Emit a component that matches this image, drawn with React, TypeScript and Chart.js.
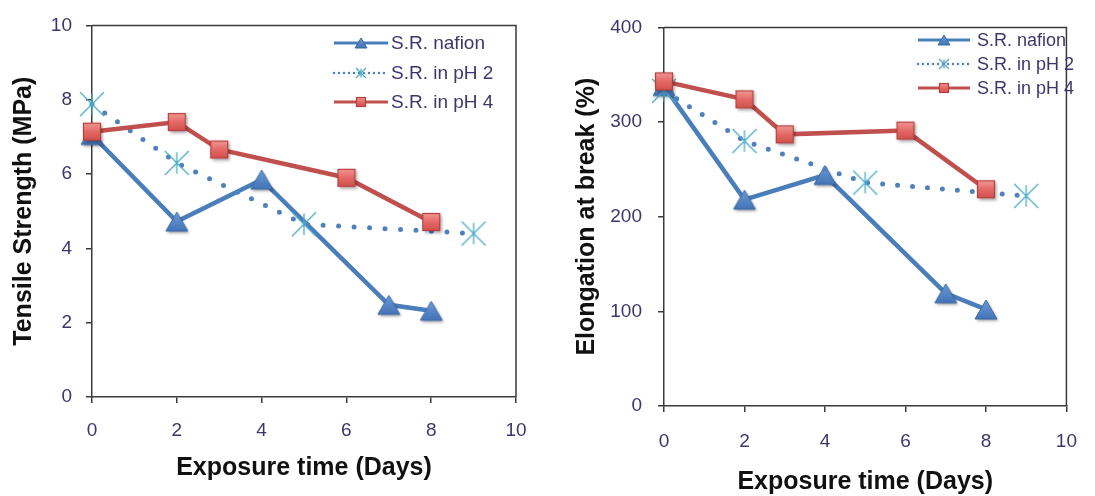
import React, { useEffect, useRef } from "react";
import { Chart, registerables } from "chart.js";

Chart.register(...registerables);

// ---------------- data ----------------
const dayTicks = [0, 2, 4, 6, 8, 10];
const tensileTicks = [0, 2, 4, 6, 8, 10];
const elongationTicks = [0, 100, 200, 300, 400];

const seriesLabels = ["S.R. nafion", "S.R. in pH 2", "S.R. in pH 4"];

const nafionDays = [0, 2, 4, 7, 8];
const ph2Days = [0, 2, 5, 9];
const ph4Days = [0, 2, 3, 6, 8];

const nafionTensile = [7.05, 4.72, 5.85, 2.48, 2.32];
const ph2Tensile = [7.88, 6.3, 4.65, 4.4];
const ph4Tensile = [7.14, 7.4, 6.66, 5.9, 4.71];

const nafionElongation = [338, 218, 244, 119, 102];
const ph2Elongation = [333, 280, 236, 222];
const ph4Elongation = [343, 324, 287, 291, 229];

// ---------------- styles ----------------
const FONT = "'Liberation Sans', Arial, sans-serif";
const BLUE = "#4a7ebb";
const DOT_BLUE = "#4f81bd";
const RED = "#c0504d";
const CYAN = "#4bacc6";
const AXIS = "#3a3a3a";
const TICK_TEXT = "#40356b";

function makeCanvas(w: number, h: number) {
  const c = document.createElement("canvas");
  c.width = w;
  c.height = h;
  return c;
}

function triangleMarker(w: number, h: number, shadow: boolean) {
  const pad = shadow ? 5 : 1;
  const c = makeCanvas(w + 2 * pad, h + 2 * pad);
  const ctx = c.getContext("2d")!;
  if (shadow) {
    ctx.shadowColor = "rgba(0,0,0,0.35)";
    ctx.shadowBlur = 3;
    ctx.shadowOffsetX = 1.5;
    ctx.shadowOffsetY = 2;
  }
  const g = ctx.createLinearGradient(0, pad, 0, pad + h);
  g.addColorStop(0, "#6e9ad6");
  g.addColorStop(1, "#4274b7");
  ctx.beginPath();
  ctx.moveTo(pad + w / 2, pad);
  ctx.lineTo(pad + w, pad + h);
  ctx.lineTo(pad, pad + h);
  ctx.closePath();
  ctx.fillStyle = g;
  ctx.fill();
  ctx.shadowColor = "transparent";
  ctx.strokeStyle = "#3d69a5";
  ctx.lineWidth = 1;
  ctx.stroke();
  return c;
}

function squareMarker(s: number, shadow: boolean) {
  const pad = shadow ? 5 : 1;
  const c = makeCanvas(s + 2 * pad, s + 2 * pad);
  const ctx = c.getContext("2d")!;
  if (shadow) {
    ctx.shadowColor = "rgba(0,0,0,0.35)";
    ctx.shadowBlur = 3;
    ctx.shadowOffsetX = 1.5;
    ctx.shadowOffsetY = 2;
  }
  const g = ctx.createLinearGradient(0, pad, 0, pad + s);
  g.addColorStop(0, "#f29a97");
  g.addColorStop(0.5, "#e46966");
  g.addColorStop(1, "#d0504c");
  ctx.fillStyle = g;
  ctx.fillRect(pad, pad, s, s);
  ctx.shadowColor = "transparent";
  ctx.strokeStyle = "#b5403d";
  ctx.lineWidth = 1.2;
  ctx.strokeRect(pad + 0.5, pad + 0.5, s - 1, s - 1);
  return c;
}

function asteriskMarker(r: number, lw: number) {
  const pad = 2;
  const size = Math.ceil(2 * r + 2 * pad);
  const c = makeCanvas(size, size);
  const ctx = c.getContext("2d")!;
  const cx = size / 2;
  const cy = size / 2;
  ctx.strokeStyle = CYAN;
  ctx.lineWidth = lw;
  ctx.beginPath();
  ctx.moveTo(cx - r, cy - r);
  ctx.lineTo(cx + r, cy + r);
  ctx.moveTo(cx + r, cy - r);
  ctx.lineTo(cx - r, cy + r);
  ctx.moveTo(cx, cy - r * 0.9);
  ctx.lineTo(cx, cy + r * 0.9);
  ctx.stroke();
  return c;
}

// legend drawn inside plot area (line sample + marker + label)
const insideLegend = {
  id: "insideLegend",
  afterDatasetsDraw(chart: any, _args: any, opts: any) {
    const ctx = chart.ctx;
    const { x0, x1, textX, rows, fontSize, markers } = opts;
    chart.data.datasets.forEach((ds: any, i: number) => {
      const y = rows[i];
      ctx.save();
      ctx.strokeStyle = ds.borderColor;
      if (ds.borderDash && ds.borderDash.length) {
        ctx.lineWidth = 2.5;
        ctx.lineCap = "round";
        ctx.setLineDash([0, 5]);
      } else {
        ctx.lineWidth = 3;
      }
      ctx.beginPath();
      ctx.moveTo(x0, y);
      ctx.lineTo(x1, y);
      ctx.stroke();
      ctx.setLineDash([]);
      const m = markers[i];
      const mid = (x0 + x1) / 2;
      ctx.drawImage(m, Math.round(mid - m.width / 2), Math.round(y - m.height / 2));
      ctx.fillStyle = TICK_TEXT;
      ctx.font = `${fontSize}px ${FONT}`;
      ctx.textBaseline = "middle";
      ctx.textAlign = "left";
      ctx.fillText(ds.label, textX, y + 1);
      ctx.restore();
    });
  },
};

// top and right frame lines of the plot area
const plotFrame = {
  id: "plotFrame",
  beforeDatasetsDraw(chart: any) {
    const { ctx, chartArea } = chart;
    ctx.save();
    ctx.strokeStyle = AXIS;
    ctx.lineWidth = 1.5;
    ctx.beginPath();
    ctx.moveTo(chartArea.left, chartArea.top);
    ctx.lineTo(chartArea.right, chartArea.top);
    ctx.lineTo(chartArea.right, chartArea.bottom);
    ctx.stroke();
    ctx.restore();
  },
};

function makeConfig(p: any): any {
  const tickFont = { family: FONT, size: 19, lineHeight: 1.2 };
  const titleFont = { family: FONT, size: 25, weight: "bold", lineHeight: 1 };
  return {
    type: "line",
    data: {
      datasets: [
        {
          label: seriesLabels[0],
          data: nafionDays.map((d, i) => ({ x: d, y: p.nafion[i] })),
          borderColor: BLUE,
          borderWidth: 4.5,
          pointStyle: p.markers.tri,
          pointRadius: 8,
          tension: 0,
          clip: false,
          order: 3,
        },
        {
          label: seriesLabels[1],
          data: ph2Days.map((d, i) => ({ x: d, y: p.ph2[i] })),
          borderColor: DOT_BLUE,
          borderWidth: 5,
          borderDash: [0, p.dotGap],
          borderCapStyle: "round",
          pointStyle: p.markers.ast,
          pointRadius: 8,
          tension: 0,
          clip: false,
          order: 2,
        },
        {
          label: seriesLabels[2],
          data: ph4Days.map((d, i) => ({ x: d, y: p.ph4[i] })),
          borderColor: RED,
          borderWidth: 4.5,
          pointStyle: p.markers.sq,
          pointRadius: 8,
          tension: 0,
          clip: false,
          order: 1,
        },
      ],
    },
    options: {
      animation: false,
      responsive: false,
      devicePixelRatio: 1,
      events: [],
      layout: { padding: { left: 0, top: p.padTop, right: p.padRight, bottom: 0 } },
      plugins: {
        legend: { display: false },
        tooltip: { enabled: false },
        insideLegend: p.legend,
      },
      scales: {
        x: {
          type: "linear",
          min: dayTicks[0],
          max: dayTicks[dayTicks.length - 1],
          afterBuildTicks: (s: any) => {
            s.ticks = dayTicks.map((v) => ({ value: v }));
          },
          afterFit: (s: any) => {
            s.height = p.xHeight;
          },
          ticks: { font: tickFont, color: TICK_TEXT, padding: p.xTickPad, maxRotation: 0 },
          grid: { drawOnChartArea: false, drawTicks: true, tickLength: 6, color: AXIS, lineWidth: 1.5 },
          border: { display: true, color: AXIS, width: 1.5 },
          title: {
            display: true,
            text: "Exposure time (Days)",
            font: titleFont,
            color: "#111111",
            padding: { top: 0, bottom: p.xTitlePad },
          },
        },
        y: {
          type: "linear",
          min: p.yTicks[0],
          max: p.yTicks[p.yTicks.length - 1],
          afterBuildTicks: (s: any) => {
            s.ticks = p.yTicks.map((v: number) => ({ value: v }));
          },
          afterFit: (s: any) => {
            s.width = p.yWidth;
          },
          ticks: { font: tickFont, color: TICK_TEXT, padding: p.yTickPad },
          grid: { drawOnChartArea: false, drawTicks: true, tickLength: 6, color: AXIS, lineWidth: 1.5 },
          border: { display: true, color: AXIS, width: 1.5 },
          title: {
            display: true,
            text: p.yTitle,
            font: titleFont,
            color: "#111111",
            padding: { top: p.yTitlePad, bottom: 0 },
          },
        },
      },
    },
    plugins: [plotFrame, insideLegend],
  };
}

export default function App() {
  const leftRef = useRef<HTMLCanvasElement>(null);
  const rightRef = useRef<HTMLCanvasElement>(null);

  useEffect(() => {
    const markers = {
      tri: triangleMarker(22, 19, true),
      sq: squareMarker(18, true),
      ast: asteriskMarker(12, 1.3),
    };
    const legendMarkers = [triangleMarker(12, 10, false), squareMarker(10, false), asteriskMarker(5, 1.2)];
    const lm = [legendMarkers[0], legendMarkers[2], legendMarkers[1]];

    const c1 = new Chart(
      leftRef.current!,
      makeConfig({
        nafion: nafionTensile,
        ph2: ph2Tensile,
        ph4: ph4Tensile,
        markers,
        dotGap: 15.5,
        yTicks: tensileTicks,
        yTitle: "Tensile Strength (MPa)",
        padTop: 24,
        padRight: 29,
        xHeight: 99,
        yWidth: 92,
        xTickPad: 16,
        yTickPad: 14,
        xTitlePad: 15,
        yTitlePad: 12,
        legend: { x0: 334, x1: 388, textX: 391, rows: [43, 73, 102], fontSize: 19, markers: lm },
      })
    );
    const c2 = new Chart(
      rightRef.current!,
      makeConfig({
        nafion: nafionElongation,
        ph2: ph2Elongation,
        ph4: ph4Elongation,
        markers,
        dotGap: 15,
        yTicks: elongationTicks,
        yTitle: "Elongation at break (%)",
        padTop: 22,
        padRight: 11,
        xHeight: 90,
        yWidth: 119,
        xTickPad: 18,
        yTickPad: 16,
        xTitlePad: 1,
        yTitlePad: 30,
        legend: { x0: 373, x1: 425, textX: 432, rows: [40, 64, 88], fontSize: 18, markers: lm },
      })
    );
    return () => {
      c1.destroy();
      c2.destroy();
    };
  }, []);

  return (
    <div style={{ position: "absolute", left: 0, top: 0, width: 1095, height: 496, background: "#ffffff" }}>
      <canvas ref={leftRef} width={545} height={496} style={{ position: "absolute", left: 0, top: 0 }} />
      <canvas ref={rightRef} width={550} height={496} style={{ position: "absolute", left: 545, top: 0 }} />
    </div>
  );
}
